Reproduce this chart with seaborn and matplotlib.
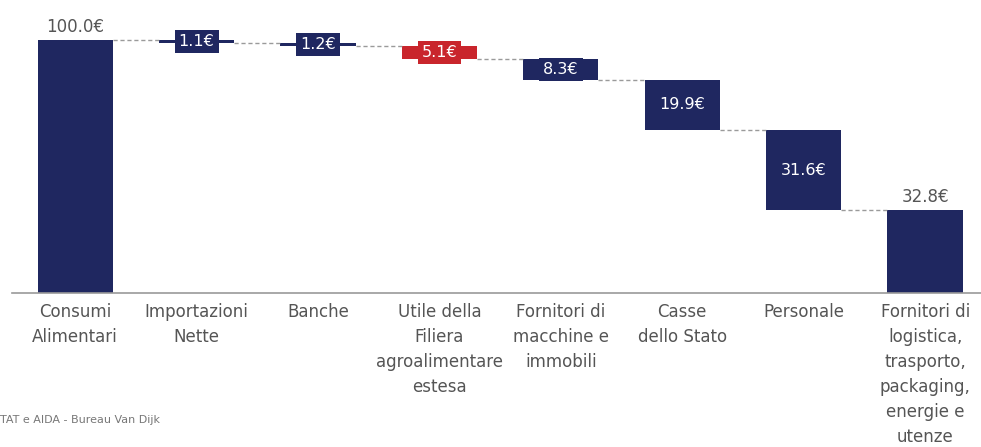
import numpy as np
import pandas as pd
import matplotlib
matplotlib.use("Agg")
import matplotlib.pyplot as plt
import seaborn as sns

categories = ["Consumi\nAlimentari", "Importazioni\nNette", "Banche",
              "Utile della\nFiliera\nagroalimentare\nestesa",
              "Fornitori di\nmacchine e\nimmobili", "Casse\ndello Stato",
              "Personale",
              "Fornitori di\nlogistica,\ntrasporto,\npackaging,\nenergie e\nutenze"]
values = [100.0, 1.1, 1.2, 5.1, 8.3, 19.9, 31.6, 32.8]
kinds = ["total", "step", "step", "step", "step", "step", "step", "total"]
highlight = "Utile della\nFiliera\nagroalimentare\nestesa"

navy = "#1f2760"
red = "#c9252c"
grey_txt = "#555555"

# waterfall bottoms
bottoms = []
level = 0.0
for v, k in zip(values, kinds):
    if k == "total":
        bottoms.append(0.0)
        level = v
    else:
        level = level - v
        bottoms.append(level)

df = pd.DataFrame({"cat": categories, "val": values, "bottom": bottoms})

sns.set_style("white")
plt.rcParams["font.family"] = ["DejaVu Sans"]

fig = plt.figure(figsize=(9.81, 4.47), dpi=100)
ax = fig.add_axes([12 / 981, (447 - 293) / 447, 1 - 12 / 981, 293 / 447])

sns.barplot(data=df, x="cat", y="val", order=categories, color=navy,
            width=0.62, bottom=df["bottom"].values, saturation=1,
            linewidth=0, ax=ax)

bars = ax.patches
for p, c in zip(bars, categories):
    if c == highlight:
        p.set_facecolor(red)

# connectors
for i in range(len(bars) - 1):
    p, q = bars[i], bars[i + 1]
    if kinds[i] == "total":
        y = p.get_y() + p.get_height()
    else:
        y = p.get_y()
    ax.plot([p.get_x() + p.get_width(), q.get_x()], [y, y],
            ls=(0, (3, 2)), color="#9a9a9a", lw=1, zorder=1)

# labels
for p, v, k in zip(bars, values, kinds):
    cx = p.get_x() + p.get_width() / 2
    lab = f"{v:.1f}€"
    if k == "total":
        ax.text(cx, p.get_y() + p.get_height() + 1.5, lab, ha="center",
                va="bottom", fontsize=12, color=grey_txt)
    else:
        fc = p.get_facecolor()
        ax.text(cx, p.get_y() + p.get_height() / 2, lab, ha="center",
                va="center", fontsize=11.5, color="white", zorder=4,
                bbox=dict(boxstyle="square,pad=0.25", fc=fc, ec="none"))

ax.set_ylim(0, 100 * 293 / 253)
ax.set_xlim(-0.52, 7.46)
ax.set_xlabel("")
ax.set_ylabel("")
ax.set_yticks([])
sns.despine(ax=ax, left=True, top=True, right=True)
ax.spines["bottom"].set_color("#9a9a9a")
ax.spines["bottom"].set_linewidth(1.2)
ax.tick_params(axis="x", length=0, pad=7, labelsize=12, labelcolor=grey_txt)
for t in ax.get_xticklabels():
    t.set_linespacing(1.5)

fig.text(0.0, 447 - 420, "TAT e AIDA - Bureau Van Dijk", transform=None,
         fontsize=8, color="#777777", va="center")

fig.savefig("out.png", dpi=100)
